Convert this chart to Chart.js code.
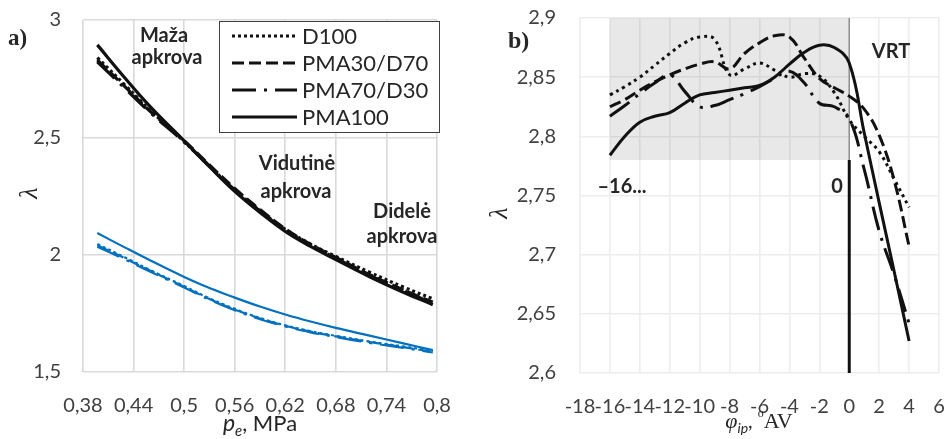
<!DOCTYPE html>
<html>
<head>
<meta charset="utf-8">
<script src="https://cdn.jsdelivr.net/npm/chart.js@4.4.1/dist/chart.umd.min.js"></script>
<style>
  html, body { margin: 0; padding: 0; background: #fff; }
  #wrap { position: relative; width: 950px; height: 439px; }
  canvas { position: absolute; top: 0; }
  #chartA { left: 0; }
  #chartB { left: 470px; }
</style>
</head>
<body>
<div id="wrap">
  <canvas id="chartA" width="470" height="439"></canvas>
  <canvas id="chartB" width="480" height="439"></canvas>
</div>
<script>
// a) lambda vs mean effective pressure
var peX = [0.397, 0.43, 0.46, 0.5, 0.53, 0.56, 0.59, 0.62, 0.65, 0.68, 0.72, 0.76, 0.795];
var blackD100   = [2.840, 2.722, 2.615, 2.482, 2.378, 2.275, 2.188, 2.108, 2.045, 1.992, 1.925, 1.862, 1.812];
var blackPMA30  = [2.830, 2.715, 2.610, 2.485, 2.382, 2.282, 2.192, 2.110, 2.044, 1.988, 1.915, 1.850, 1.797];
var blackPMA70  = [2.822, 2.708, 2.605, 2.480, 2.378, 2.276, 2.186, 2.104, 2.040, 1.985, 1.912, 1.848, 1.792];
var blackPMA100 = [2.894, 2.752, 2.630, 2.485, 2.375, 2.270, 2.180, 2.099, 2.035, 1.979, 1.906, 1.840, 1.787];
var blueD100    = [2.045, 1.988, 1.934, 1.866, 1.814, 1.769, 1.730, 1.699, 1.674, 1.654, 1.630, 1.609, 1.590];
var bluePMA30   = [2.040, 1.984, 1.931, 1.863, 1.811, 1.766, 1.728, 1.697, 1.672, 1.652, 1.628, 1.606, 1.586];
var bluePMA70   = [2.034, 1.979, 1.927, 1.860, 1.808, 1.763, 1.725, 1.694, 1.669, 1.649, 1.624, 1.603, 1.583];
var bluePMA100  = [2.092, 2.030, 1.975, 1.905, 1.858, 1.817, 1.779, 1.745, 1.715, 1.688, 1.655, 1.622, 1.593];

// b) lambda vs injection timing
var phiX = [-16, -15, -14, -13, -12, -11, -10, -9, -8, -7, -6, -5, -4, -3, -2, -1, 0, 1, 2, 3, 4];
var phiD100   = [2.835, 2.842, 2.850, 2.860, 2.870, 2.879, 2.884, 2.882, 2.852, 2.857, 2.862, 2.856, 2.850, 2.853, 2.851, 2.837, 2.814, 2.800, 2.787, 2.764, 2.740];
var phiPMA30  = [2.825, 2.831, 2.839, 2.846, 2.852, 2.857, 2.861, 2.863, 2.857, 2.870, 2.879, 2.885, 2.884, 2.866, 2.849, 2.841, 2.834, 2.823, 2.801, 2.763, 2.707];
var phiPMA70  = [2.817, 2.826, 2.836, 2.845, 2.852, 2.838, 2.825, 2.826, 2.831, 2.836, 2.842, 2.849, 2.855, 2.845, 2.828, 2.825, 2.815, 2.772, 2.720, 2.683, 2.642];
var phiPMA100 = [2.784, 2.800, 2.812, 2.817, 2.820, 2.828, 2.835, 2.837, 2.839, 2.841, 2.843, 2.850, 2.861, 2.871, 2.877, 2.875, 2.862, 2.803, 2.744, 2.686, 2.627];
var shadeX = [-16, 0];
var shadeY = [2.78, 2.9];
var vrtX = 0;

var seriesNames = ['D100', 'PMA30/D70', 'PMA70/D30', 'PMA100'];
var dashes = [[3, 3], [12, 5], [24, 8, 3, 8], []];

var FONT = "Lato, 'Open Sans', sans-serif";
var SERIF = "'Liberation Serif', 'DejaVu Serif', serif";
var tickColor = '#404040';
var textColor = '#262626';

function pts(xs, ys) {
  return xs.map(function(x, i) { return { x: x, y: ys[i] }; });
}
function commaNum(v) {
  return String(Math.round(v * 100) / 100).replace('.', ',');
}
function lineSet(label, xs, ys, color, width, dash, noLegend) {
  return {
    label: label,
    data: pts(xs, ys),
    borderColor: color,
    borderWidth: width,
    borderDash: dash,
    pointRadius: 0,
    tension: 0.4,
    fill: false,
    noLegend: !!noLegend
  };
}

// text notes, rich axis titles and rotated lambda
var notesPlugin = {
  id: 'notes',
  afterDraw: function(chart, args, opts) {
    var ctx = chart.ctx;
    ctx.save();
    ctx.fillStyle = textColor;
    (opts.items || []).forEach(function(it) {
      ctx.font = it.font;
      ctx.textAlign = it.align || 'center';
      ctx.textBaseline = 'alphabetic';
      ctx.fillText(it.text, it.x, it.y);
    });
    if (opts.title) {
      var t = opts.title, w = 0;
      t.parts.forEach(function(p) { ctx.font = p.font; w += ctx.measureText(p.t).width; });
      var x = t.cx - w / 2;
      ctx.textAlign = 'left';
      t.parts.forEach(function(p) {
        ctx.font = p.font;
        ctx.fillText(p.t, x, t.y + (p.dy || 0));
        x += ctx.measureText(p.t).width;
      });
    }
    if (opts.lambda) {
      ctx.translate(opts.lambda.x, opts.lambda.y);
      ctx.rotate(-Math.PI / 2);
      ctx.font = 'italic 26px ' + SERIF;
      ctx.textAlign = 'center';
      ctx.textBaseline = 'middle';
      ctx.fillText('λ', 0, 0);
    }
    ctx.restore();
  }
};

var legendBox = {
  id: 'legendBox',
  afterDatasetsDraw: function(chart) {
    var ctx = chart.ctx;
    ctx.save();
    ctx.fillStyle = '#fff';
    ctx.fillRect(219.5, 21.5, 220, 111);
    ctx.strokeStyle = '#404040';
    ctx.lineWidth = 1;
    ctx.strokeRect(219.5, 21.5, 220, 111);
    var row = 0;
    chart.data.datasets.forEach(function(ds) {
      if (ds.noLegend) return;
      var y = 36 + row * 27;
      ctx.beginPath();
      ctx.setLineDash(ds.borderDash || []);
      ctx.lineWidth = ds.borderWidth;
      ctx.strokeStyle = ds.borderColor;
      ctx.moveTo(232, y);
      ctx.lineTo(297, y);
      ctx.stroke();
      ctx.setLineDash([]);
      ctx.fillStyle = textColor;
      ctx.font = '22px ' + FONT;
      ctx.textAlign = 'left';
      ctx.textBaseline = 'middle';
      ctx.fillText(ds.label, 302, y + 1);
      row++;
    });
    ctx.restore();
  }
};

var shadePlugin = {
  id: 'shade',
  beforeDatasetsDraw: function(chart) {
    var ctx = chart.ctx, xs = chart.scales.x, ys = chart.scales.y;
    var x0 = xs.getPixelForValue(shadeX[0]), x1 = xs.getPixelForValue(shadeX[1]);
    var y0 = ys.getPixelForValue(shadeY[1]), y1 = ys.getPixelForValue(shadeY[0]);
    ctx.save();
    ctx.fillStyle = 'rgba(0,0,0,0.09)';
    ctx.fillRect(x0, y0, x1 - x0, y1 - y0);
    ctx.restore();
  }
};

Chart.defaults.font.family = FONT;
Chart.defaults.color = tickColor;

// ---- chart a)
var dsA = [];
var blackA = [blackD100, blackPMA30, blackPMA70, blackPMA100];
var blueA = [blueD100, bluePMA30, bluePMA70, bluePMA100];
seriesNames.forEach(function(n, i) {
  dsA.push(lineSet(n, peX, blackA[i], '#111', 3.2, dashes[i], false));
});
seriesNames.forEach(function(n, i) {
  dsA.push(lineSet(n, peX, blueA[i], '#0070c0', 2.2, dashes[i], true));
});

new Chart(document.getElementById('chartA'), {
  type: 'line',
  data: { datasets: dsA },
  plugins: [legendBox, notesPlugin],
  options: {
    responsive: false,
    animation: false,
    layout: { padding: { left: 0, right: 33, top: 20, bottom: 0 } },
    scales: {
      x: {
        type: 'linear', min: 0.38, max: 0.8,
        ticks: { stepSize: 0.06, padding: 22, autoSkip: false, maxRotation: 0,
                 font: { size: 20 }, color: tickColor, callback: commaNum },
        grid: { color: '#d9d9d9', lineWidth: 1.6, drawTicks: false },
        border: { display: false },
        afterFit: function(s) { s.height = 67; s.paddingLeft = 0; s.paddingRight = 0; }
      },
      y: {
        min: 1.5, max: 3,
        ticks: { stepSize: 0.5, padding: 22, font: { size: 20 }, color: tickColor, callback: commaNum },
        grid: { color: '#d9d9d9', lineWidth: 1.6, drawTicks: false },
        border: { display: false },
        afterFit: function(s) { s.width = 83; s.paddingTop = 0; s.paddingBottom = 0; }
      }
    },
    plugins: {
      legend: { display: false },
      tooltip: { enabled: false },
      notes: {
        items: [
          { text: 'a)', x: 8, y: 45, font: 'bold 23px ' + SERIF, align: 'left' },
          { text: 'Maža', x: 164, y: 42, font: 'bold 20px ' + FONT },
          { text: 'apkrova', x: 167, y: 64, font: 'bold 20px ' + FONT },
          { text: 'Vidutinė', x: 297, y: 170, font: 'bold 20px ' + FONT },
          { text: 'apkrova', x: 296, y: 198, font: 'bold 20px ' + FONT },
          { text: 'Didelė', x: 402, y: 218, font: 'bold 20px ' + FONT },
          { text: 'apkrova', x: 402, y: 243, font: 'bold 20px ' + FONT }
        ],
        title: {
          cx: 260, y: 431,
          parts: [
            { t: 'p', font: 'italic 23px ' + FONT },
            { t: 'e', font: 'italic 15px ' + FONT, dy: 5 },
            { t: ', MPa', font: '22px ' + FONT }
          ]
        },
        lambda: { x: 30, y: 193 }
      }
    }
  }
});

// ---- chart b)
var blackB = [phiD100, phiPMA30, phiPMA70, phiPMA100];
var dsB = [];
seriesNames.forEach(function(n, i) {
  dsB.push(lineSet(n, phiX, blackB[i], '#111', 3, i === 0 ? [3, 4] : dashes[i], false));
});
dsB.push({
  label: 'VRT', data: [{ x: vrtX, y: 2.6 }, { x: vrtX, y: shadeY[0] }],
  borderColor: '#111', borderWidth: 3, pointRadius: 0, tension: 0
});
dsB.push({
  label: 'VRT2', data: [{ x: vrtX, y: shadeY[0] }, { x: vrtX, y: shadeY[1] }],
  borderColor: '#808080', borderWidth: 1.2, pointRadius: 0, tension: 0
});

new Chart(document.getElementById('chartB'), {
  type: 'line',
  data: { datasets: dsB },
  plugins: [shadePlugin, notesPlugin],
  options: {
    responsive: false,
    animation: false,
    layout: { padding: { left: 0, right: 11, top: 18, bottom: 0 } },
    scales: {
      x: {
        type: 'linear', min: -18, max: 6,
        ticks: { stepSize: 2, padding: 22, autoSkip: false, maxRotation: 0,
                 font: { size: 20 }, color: tickColor },
        grid: { color: '#ededed', lineWidth: 1.6, drawTicks: false },
        border: { display: false },
        afterFit: function(s) { s.height = 66; s.paddingLeft = 0; s.paddingRight = 0; }
      },
      y: {
        min: 2.6, max: 2.9,
        ticks: { stepSize: 0.05, padding: 24, font: { size: 20 }, color: tickColor, callback: commaNum },
        grid: { color: '#ededed', lineWidth: 1.6, drawTicks: false },
        border: { display: false },
        afterFit: function(s) { s.width = 110; s.paddingTop = 0; s.paddingBottom = 0; }
      }
    },
    plugins: {
      legend: { display: false },
      tooltip: { enabled: false },
      notes: {
        items: [
          { text: 'b)', x: 38, y: 48, font: 'bold 24px ' + SERIF, align: 'left' },
          { text: 'VRT', x: 421, y: 58, font: 'bold 20px ' + FONT },
          { text: '–16...', x: 152, y: 193, font: 'bold 20px ' + FONT },
          { text: '0', x: 367, y: 193, font: 'bold 20px ' + FONT }
        ],
        title: {
          cx: 289, y: 428,
          parts: [
            { t: 'φ', font: 'italic 22px ' + SERIF },
            { t: 'ip', font: 'italic 14px ' + FONT, dy: 5 },
            { t: ', ', font: '20px ' + FONT },
            { t: 'o', font: '12px ' + SERIF, dy: -11 },
            { t: 'AV', font: '22px ' + SERIF }
          ]
        },
        lambda: { x: 30, y: 213 }
      }
    }
  }
});
</script>
</body>
</html>
